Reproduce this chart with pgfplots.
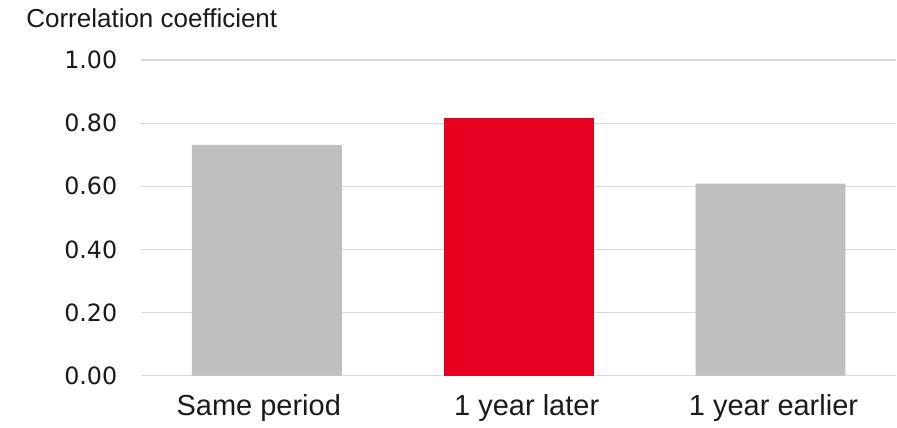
\documentclass[border=0pt]{standalone}
\usepackage{pgfplots}
\pgfplotsset{compat=1.18}
\usepackage{fontspec}
\setmainfont{Liberation Sans}
\newfontfamily\tickfont{DejaVu Sans}
\definecolor{barGray}{HTML}{BFBFBF}
\definecolor{barRed}{HTML}{E6001F}
\definecolor{gridGray}{HTML}{D9D9D9}
\definecolor{txt}{HTML}{1A1A1A}
\begin{document}
\begin{tikzpicture}
\path (0,0) rectangle (448.5pt,212pt);
\begin{axis}[
  at={(70.5pt,24pt)}, anchor=south west,
  scale only axis, width=378pt, height=158pt,
  xmin=-0.5, xmax=2.5, ymin=0, ymax=1,
  axis line style={draw=none},
  ymajorgrids, grid style={gridGray, line width=0.6pt},
  major tick length=0pt,
  xtick={-0.032,1.032,2.012}, xticklabels={Same period,1 year later,1 year earlier},
  ytick={0,0.2,0.4,0.6,0.8,1},
  yticklabel style={/pgf/number format/.cd, fixed, fixed zerofill, precision=2, /tikz/.cd},
  /pgf/number format/assume math mode=true,
  yticklabel style={font=\tickfont\fontsize{11.9}{14}\selectfont, text=txt, xshift=-8.3pt},
  xticklabel style={font=\fontsize{14.5}{17}\selectfont, text=txt, yshift=-5.7pt},
  ybar, bar width=75pt,
]
\addplot[fill=barGray, draw=none, bar shift=0pt] coordinates {(0,0.731) (2,0.608)};
\addplot[fill=barRed, draw=none, bar shift=0pt] coordinates {(1,0.816)};
\end{axis}
\node[anchor=base west, font=\fontsize{13}{15}\selectfont, text=txt, inner sep=0pt] at (13pt,198pt) {Correlation coefficient};
\end{tikzpicture}
\end{document}
